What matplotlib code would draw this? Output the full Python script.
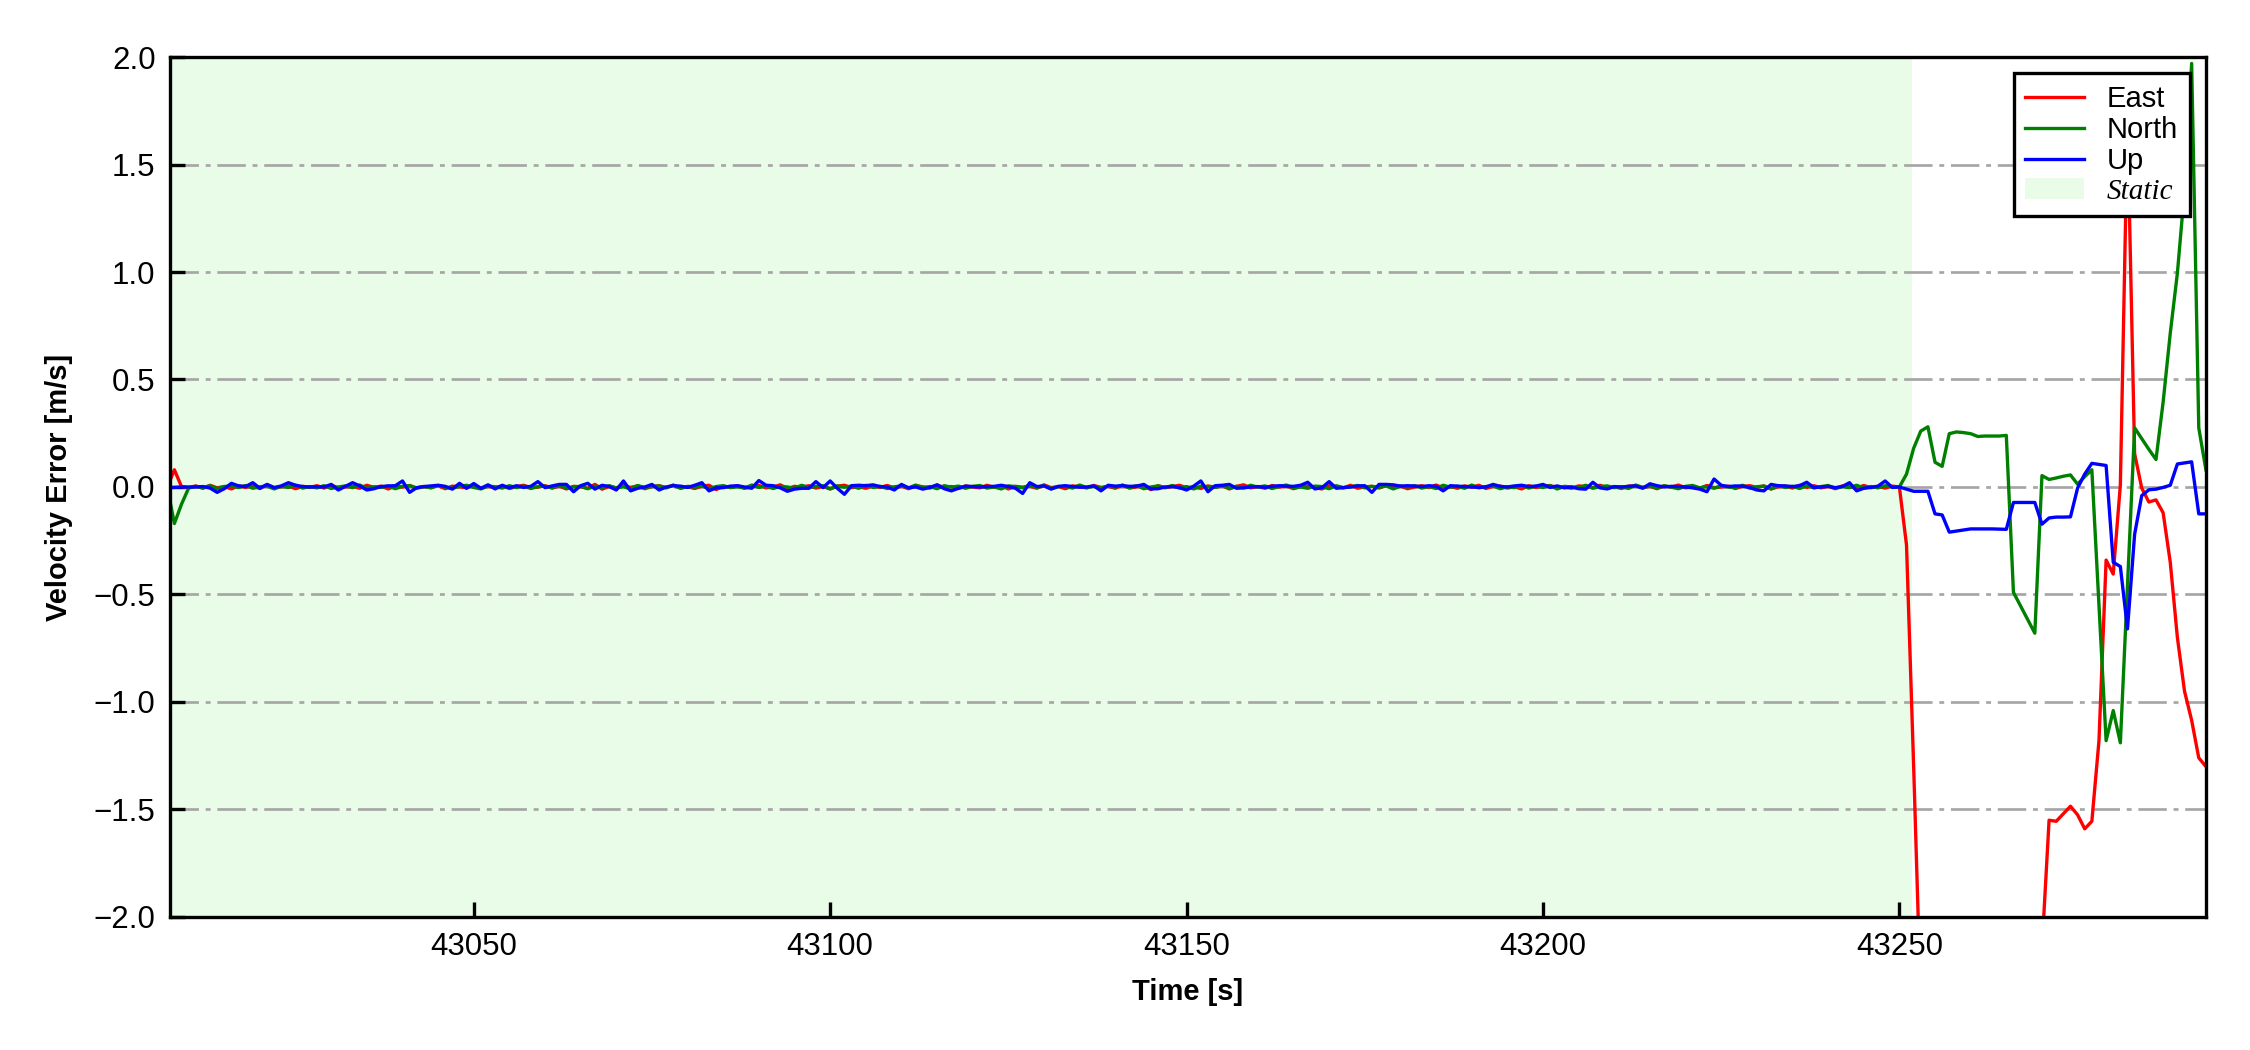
import numpy as np
import matplotlib.pyplot as plt
from matplotlib.font_manager import FontProperties

plt.rcParams['font.family'] = ['Liberation Sans', 'DejaVu Sans']

# static phase (1 Hz epochs, first 243), velocity error in mm/s
east_static_mm = [
    0, 80, 2, -3, 5, -6, 8, -4, 2, -9,
    6, -2, 4, -7, 10, -3, 1, 5, -8, 3,
    -2, 6, -5, 9, -4, 0, 3, -6, 8, -2,
    4, -9, 5, -1, 7, -5, 2, -3, 6, -8,
    4, 1, -4, 9, -6, 3, -2, 5, -7, 2,
    8, -3, -1, 6, -5, 4, -9, 3, 1, -6,
    12, -10, 3, -4, 7, -2, 5, -8, 2, 6,
    -3, 9, -5, 1, -7, 4, 8, -12, 3, -2,
    5, -6, 2, 7, -4, 0, 10, -8, 3, -1,
    6, -5, 2, -9, 4, 8, -3, 1, -6, 5,
    -2, 7, -4, 3, -8, 6, 1, -5, 9, -3,
    2, -7, 5, 0, -4, 8, -2, 6, -9, 3,
    -1, 4, -6, 10, -3, 2, -8, 5, 1, -4,
    7, -2, 3, -6, 9, -5, 0, 4, -12, 6,
    -3, 2, 8, -4, 1, -7, 5, -2, 6, -9,
    3, 10, -4, 2, -6, 7, -1, 4, -8, 3,
    5, -3, -9, 6, 2, -4, 8, -6, 1, 3,
    -5, 7, -2, 4, -8, 0, 6, -3, 9, -4,
    2, -6, 5, -1, 8, -7, 3, 4, -5, 1,
    -9, 6, -2, 3, 7, -4, 0, -6, 5, 2,
    -3, 8, -5, 1, -7, 4, 6, -2, 3, -8,
    5, -1, 9, -4, 2, -6, 7, -3, 0, 4,
    -7, 3, 6, -2, 5, -9, 1, 4, -5, 8,
    -2, 6, -4, 3, -8, 5, 1, -6, 7, -3,
    2, -5, 4,
]
north_static_mm = [
    0, -170, -80, -5, 3, -4, 6, -8, 2, 5,
    -3, 7, -6, 1, 4, -9, 3, -2, 8, -5,
    2, -4, 6, -7, 0, 5, -3, 9, -6, 1,
    -2, 4, -8, 3, 6, -5, 2, -4, 7, -1,
    -6, 3, 8, -2, -9, 4, 1, -5, 6, -3,
    5, -7, 2, 4, -4, 9, -6, 0, 3, -8,
    4, -2, 6, -5, 1, -9, 7, -3, 2, 5,
    -4, 8, -6, 3, -1, 5, -8, 2, 6, -3,
    1, -5, 9, -2, 4, -7, 3, 0, -6, 8,
    -3, 2, 6, -9, 5, -1, 4, -6, 8, -2,
    3, -7, 1, 5, -4, 9, -3, 2, -8, 6,
    -1, 4, -6, 3, 7, -5, 0, -9, 5, 2,
    -4, 8, -2, 6, -7, 1, 3, -5, 9, -3,
    2, -6, 4, -1, 8, -4, 6, -8, 0, 5,
    -3, 7, -5, 2, -9, 4, 1, -2, 6, -6,
    3, -4, 8, -1, 5, -7, 2, 9, -5, 0,
    -6, 4, 2, -8, 6, -3, 1, 7, -4, 3,
    -2, 5, -9, 4, 0, 6, -5, 2, -7, 8,
    -1, 3, -6, 9, -4, 2, 5, -8, 1, -3,
    7, -5, 4, -2, 6, -9, 3, 0, -4, 8,
    -6, 2, 5, -3, 1, -7, 9, -2, 4, -5,
    6, -1, -8, 3, 7, -4, 2, -6, 5, 0,
    -3, 8, -5, 1, 4, -9, 6, -2, 3, -7,
    5, -4, 2, 7, -6, 1, -3, 8, -5, 2,
    -4, 6, 0,
]
up_static_mm = [
    -3, -2, 0, 0, 0, 2, -5, -25, -8, 17,
    5, 2, 20, -6, 12, -3, 5, 20, 8, 2,
    0, 1, 0, 12, -14, 3, 20, 5, -14, -8,
    2, 5, 6, 28, -25, -3, 2, 5, 8, 3,
    -10, 17, -6, 16, -6, 10, -9, 8, -4, 6,
    -2, 3, 25, -3, 5, 12, 12, -22, 6, 17,
    -10, 8, 2, -14, 28, -18, -6, 0, 12, -14,
    0, 6, 4, -2, 8, 20, -18, -4, -3, 4,
    6, 0, -6, 30, 8, 6, -4, -20, -10, -6,
    -6, 25, -3, 28, -6, -34, 6, 8, 6, 10,
    2, 0, -14, 12, -4, 0, -10, -2, 10, -8,
    -18, -6, 4, 2, 0, 2, 3, 8, 2, -6,
    -30, 20, 2, 5, -10, 3, 6, 2, -1, 0,
    5, -18, 8, 4, 6, 3, 4, 12, -9, -8,
    0, 2, -3, -14, 4, 28, -22, 6, 8, 12,
    -6, -4, 0, 2, -2, 3, 6, 4, 3, 8,
    22, -9, -3, 25, -6, -3, 0, 5, 6, -25,
    12, 12, 10, 4, 6, 4, 2, 6, 3, -18,
    6, 4, 2, 0, -2, 0, 12, 3, 0, 5,
    8, 2, 4, 12, -2, 5, -4, 0, -8, -10,
    22, -4, -9, 2, 0, 3, 5, -6, 15, 6,
    0, 3, 2, 0, -4, -10, -22, 37, 8, 2,
    5, 4, -3, -14, -18, 12, 6, 5, 2, 6,
    22, -3, 0, 3, -3, 2, 20, -18, -6, -2,
    4, 28, -2,
]

# dynamic phase (last 44 epochs), m/s
east_dyn = [
    0.0, -0.27, -1.3, -2.4, -2.9, -3.3, -3.5, -3.6, -3.4, -3.2,
    -3.3, -3.1, -2.9, -3.0, -2.8, -2.7, -2.6, -2.5, -2.4, -2.3,
    -2.15, -1.55, -1.555, -1.52, -1.485, -1.525, -1.59, -1.555, -1.18, -0.34,
    -0.405, 0.01, 1.7, 0.155, -0.005, -0.07, -0.06, -0.12, -0.35, -0.70,
    -0.95, -1.085, -1.26, -1.30,
]
north_dyn = [
    0.0, 0.06, 0.18, 0.26, 0.28, 0.115, 0.096, 0.248, 0.256, 0.253,
    0.248, 0.235, 0.237, 0.237, 0.237, 0.24, -0.49, -0.553, -0.617, -0.68,
    0.053, 0.035, 0.042, 0.05, 0.056, 0.013, 0.048, 0.08, -0.55, -1.18,
    -1.04, -1.19, -0.46, 0.275, 0.225, 0.175, 0.128, 0.395, 0.715, 0.995,
    1.38, 1.97, 0.275, 0.08,
]
up_dyn = [
    0.0, -0.01, -0.02, -0.02, -0.02, -0.125, -0.13, -0.21, -0.205, -0.20,
    -0.195, -0.195, -0.195, -0.195, -0.196, -0.197, -0.072, -0.072, -0.072, -0.072,
    -0.173, -0.144, -0.14, -0.14, -0.139, -0.005, 0.06, 0.11, 0.105, 0.10,
    -0.35, -0.37, -0.66, -0.22, -0.04, -0.013, -0.01, -0.002, 0.008, 0.107,
    0.112, 0.117, -0.125, -0.125,
]

t_start = 43007
static_end = 43251.8

east = np.r_[np.array(east_static_mm) / 1000, east_dyn]
north = np.r_[np.array(north_static_mm) / 1000, north_dyn]
up = np.r_[np.array(up_static_mm) / 1000, up_dyn]
time = t_start + np.arange(len(east))

fig, ax = plt.subplots(figsize=(7.5, 3.5), dpi=300)
fig.subplots_adjust(left=0.0756, right=0.9804, bottom=0.1267, top=0.9457)

ax.axvspan(time[0] - 1, static_end, color='#e8fce8', lw=0, label='Static')
ax.plot(time, east, color='red', lw=0.8, label='East')
ax.plot(time, north, color='green', lw=0.8, label='North')
ax.plot(time, up, color='blue', lw=0.8, label='Up')

ax.set_xlim(43007.4, 43293.0)
ax.set_ylim(-2, 2)
ax.set_yticks(np.arange(-2, 2.01, 0.5))
ax.set_xticks([43050, 43100, 43150, 43200, 43250])
ax.grid(axis='y', color='#a6a6a6', lw=0.65, linestyle=(0, (10.5, 2.5, 1.8, 2.5)))

ax.tick_params(direction='in', labelsize=7.5, length=3.5, width=0.8)
for sp in ax.spines.values():
    sp.set_linewidth(0.8)

ax.set_xlabel('Time [s]', fontsize=7, fontweight='bold', labelpad=4)
ax.set_ylabel('Velocity Error [m/s]', fontsize=7, fontweight='bold', labelpad=5)

handles, labels = ax.get_legend_handles_labels()
order = [1, 2, 3, 0]
leg = ax.legend([handles[i] for i in order], [labels[i] for i in order],
                loc='upper right', fontsize=7, fancybox=False, framealpha=1,
                edgecolor='black', labelspacing=0.11, handlelength=2.0,
                borderaxespad=0.55)
leg.get_frame().set_linewidth(0.8)
leg.get_texts()[3].set_fontproperties(
    FontProperties(family='Liberation Serif', style='italic', size=7))

plt.savefig('out.png', dpi=300)
